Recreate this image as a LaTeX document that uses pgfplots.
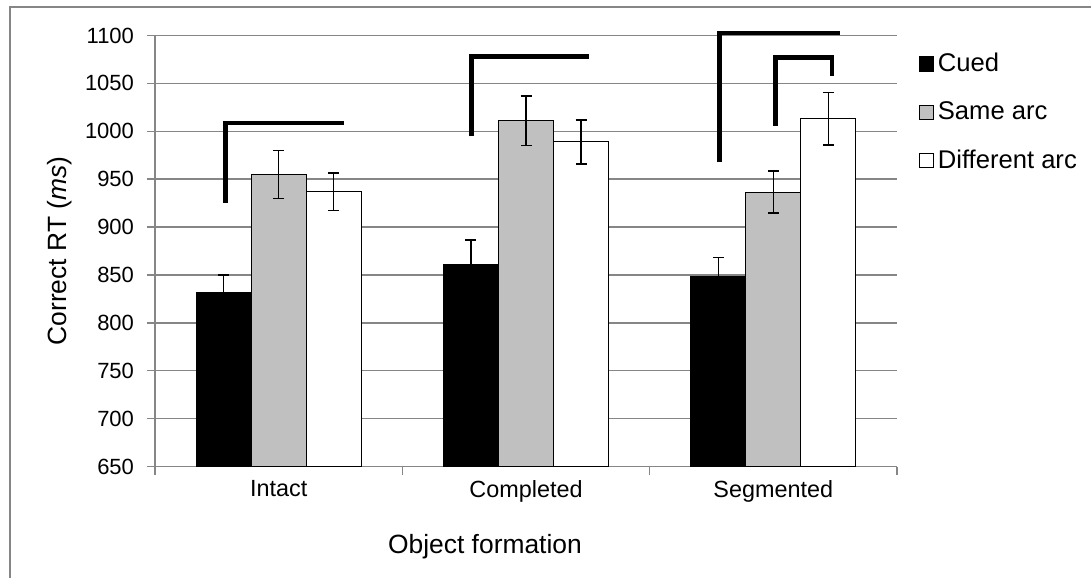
\documentclass[border=0pt]{standalone}
\usepackage{fontspec}
\setmainfont{Liberation Sans}
\usepackage{pgfplots}
\pgfplotsset{compat=1.18}
\definecolor{gridgray}{HTML}{868686}
\definecolor{bargray}{HTML}{C0C0C0}
\pgfplotsset{sqlegend/.style={legend image code/.code={\draw[##1,line width=0.6bp,draw=black] (0bp,-3.5bp) rectangle (7bp,3.5bp);}}}
\begin{document}
\begin{tikzpicture}
\path[use as bounding box] (0,0) rectangle (545.5bp,-289bp);
\draw[gridgray, line width=0.7bp] (5bp,-289bp) -- (5bp,-3.5bp) -- (545.5bp,-3.5bp);
\begin{axis}[
  at={(77.5bp,-233.25bp)}, anchor=south west,
  width=371bp, height=215.5bp, scale only axis,
  clip=false,
  xmin=-0.5, xmax=2.5, ymin=650, ymax=1100,
  ytick={650,700,...,1100},
  xtick={-0.5,0.5,1.5,2.5}, xticklabels={,,,},
  extra x ticks={0,1,2},
  extra x tick labels={Intact,Completed,Segmented},
  extra x tick style={major tick length=0pt},
  axis x line=bottom, axis y line=left,
  axis line style={gridgray, line width=0.75bp, -},
  tick style={gridgray, line width=0.75bp},
  tick align=outside,
  major tick length=4bp,
  ymajorgrids,
  grid style={gridgray, line width=0.75bp},
  /pgf/number format/assume math mode=true,
  /pgf/number format/1000 sep={},
  yticklabel style={font=\fontsize{11bp}{13bp}\selectfont, xshift=-3bp},
  xticklabel style={font=\fontsize{11.7bp}{14bp}\selectfont, yshift=-3.5bp},
  ylabel={Correct RT (\textit{ms})},
  ylabel style={at={(axis description cs:-0.128,0.5)}, anchor=center, font=\fontsize{13.2bp}{16bp}\selectfont},
  xlabel={Object formation},
  xlabel style={at={(axis description cs:0.4447,-0.2007)}, anchor=base, font=\fontsize{13.2bp}{16bp}\selectfont},
  legend style={at={(axis description cs:1.0287,0.9690)}, anchor=north west, draw=none, fill=none,
    font=\fontsize{12.8bp}{15bp}\selectfont, row sep=9.5bp, inner sep=0pt},
  legend cell align=left,
  error bars/error bar style={line width=0.75bp, black},
  error bars/error mark options={rotate=90, mark size=2.75bp, line width=0.75bp, black},
]
\addplot[ybar, bar width=27.5bp, bar shift=0bp, fill=black, draw=black, line width=0.6bp, sqlegend,
  error bars/.cd, y dir=both, y explicit]
  coordinates {(-0.2224,832) +- (0,18) (0.7776,861) +- (0,25.5) (1.7776,848) +- (0,20)};
\addplot[ybar, bar width=27.5bp, bar shift=0bp, fill=bargray, draw=black, line width=0.6bp, sqlegend,
  error bars/.cd, y dir=both, y explicit]
  coordinates {(0,955) +- (0,25) (1,1011) +- (0,26) (2,936.5) +- (0,22)};
\addplot[ybar, bar width=27.5bp, bar shift=0bp, fill=white, draw=black, line width=0.6bp, sqlegend,
  error bars/.cd, y dir=both, y explicit]
  coordinates {(0.2224,937) +- (0,19.5) (1.2224,989) +- (0,23) (2.2224,1013) +- (0,27.5)};
\legend{Cued, Same arc, Different arc}
\addplot[black, line width=2.25bp, line join=miter, line cap=butt, forget plot]
  coordinates {(-0.215,925.6) (-0.215,1008.5) (0.264,1008.5)};
\addplot[black, line width=2.25bp, line join=miter, line cap=butt, forget plot]
  coordinates {(0.779,994.6) (0.779,1078) (1.256,1078)};
\addplot[black, line width=2.25bp, line join=miter, line cap=butt, forget plot]
  coordinates {(1.783,967.5) (1.783,1102.6) (2.271,1102.6)};
\addplot[black, line width=2.25bp, line join=miter, line cap=butt, forget plot]
  coordinates {(2.008,1005.8) (2.008,1077) (2.238,1077) (2.238,1057.3)};
\end{axis}
\end{tikzpicture}
\end{document}
